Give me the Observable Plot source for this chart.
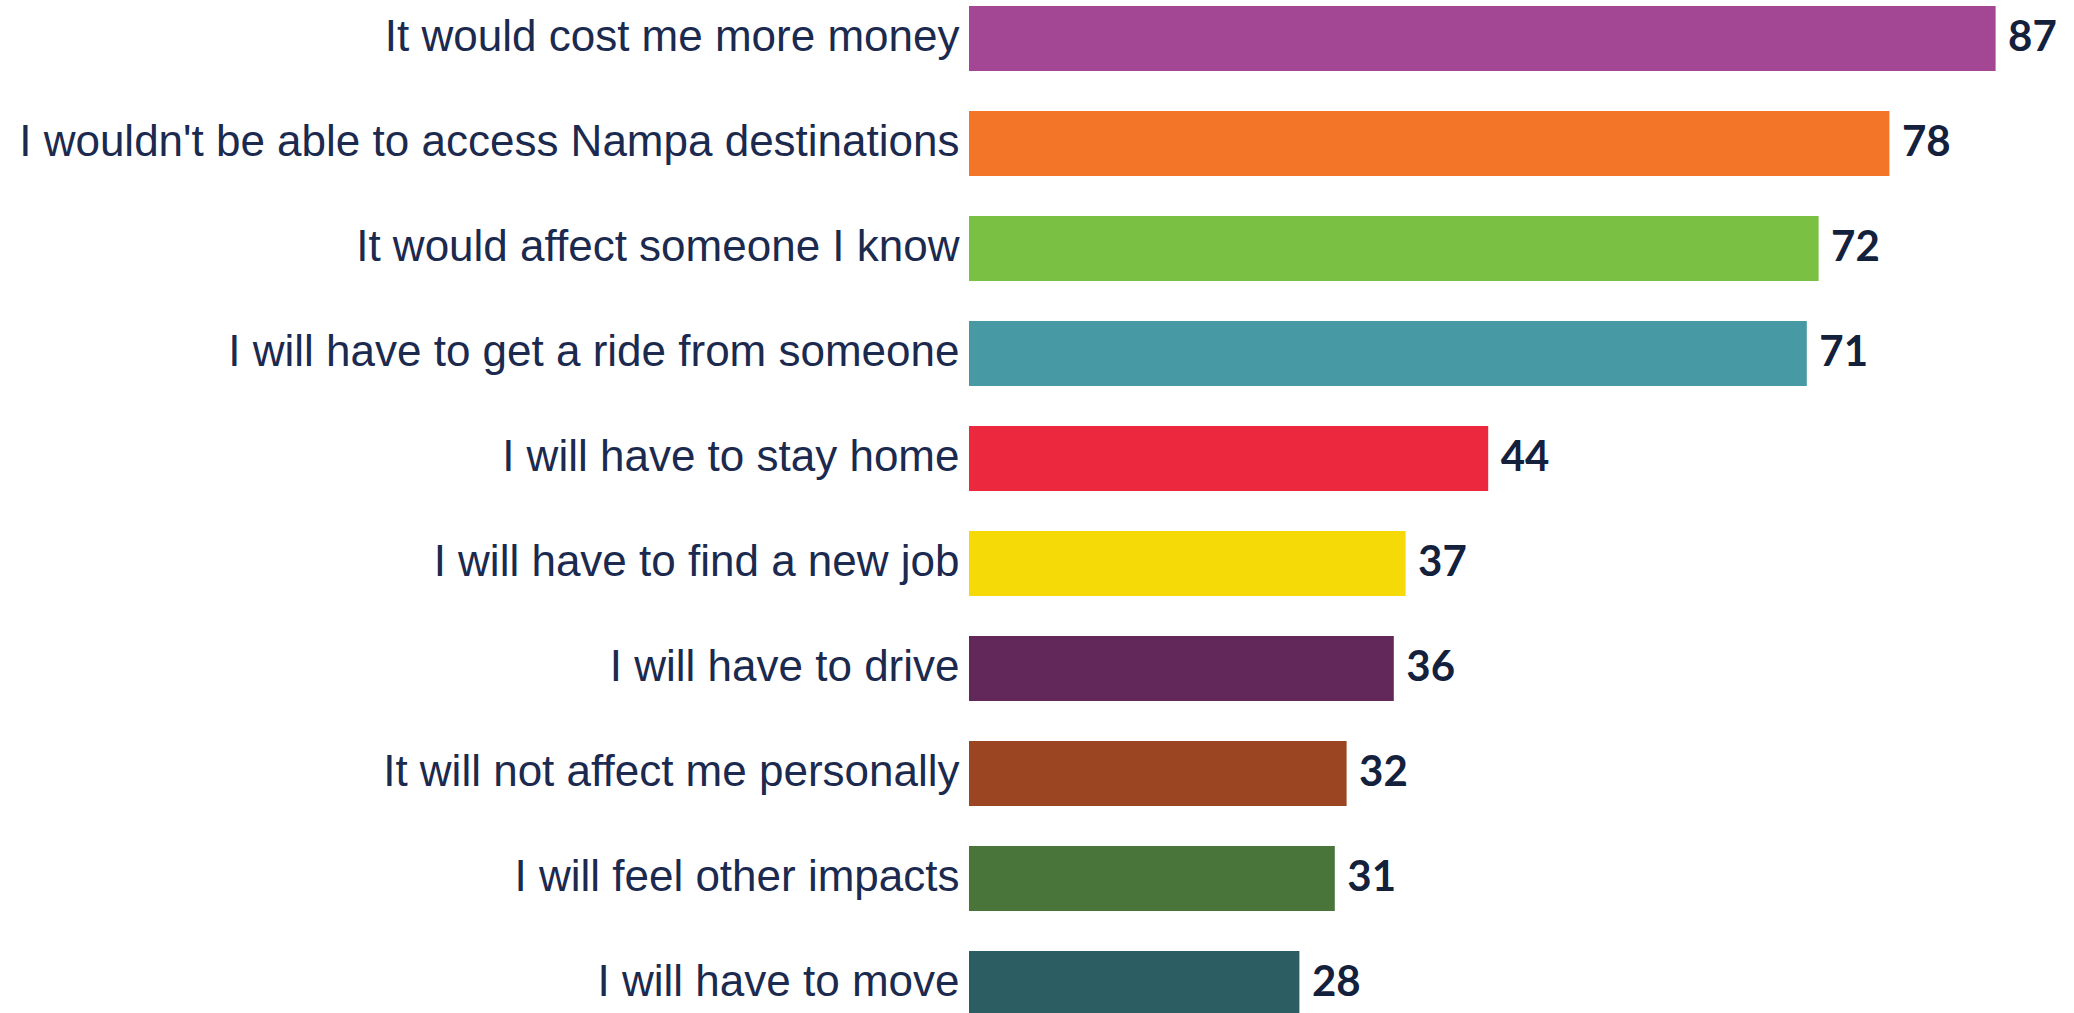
<!DOCTYPE html>
<html>
<head>
<meta charset="utf-8">
<script src="https://cdn.jsdelivr.net/npm/d3@7"></script>
<script src="https://cdn.jsdelivr.net/npm/@observablehq/plot@0.6"></script>
<style>
  html, body { margin: 0; padding: 0; background: #fff; overflow: hidden; }
  #chart svg { display: block; }
</style>
</head>
<body>
<div id="chart"></div>
<script>
const categories = [
  "It would cost me more money",
  "I wouldn't be able to access Nampa destinations",
  "It would affect someone I know",
  "I will have to get a ride from someone",
  "I will have to stay home",
  "I will have to find a new job",
  "I will have to drive",
  "It will not affect me personally",
  "I will feel other impacts",
  "I will have to move"
];
const values = [87, 78, 72, 71, 44, 37, 36, 32, 31, 28];
const colors = ["#a34693", "#f37527", "#7ac143", "#4799a4", "#ec283f", "#f6da07", "#62285a", "#9c4522", "#4a753a", "#2c5d63"];

const data = categories.map((c, i) => ({category: c, value: values[i], color: colors[i]}));

const chart = Plot.plot({
  width: 2074,
  height: 1013,
  marginLeft: 969,
  marginRight: 0,
  marginTop: 0,
  marginBottom: 0,
  x: {domain: [0, 100], range: [969, 969 + 1180], axis: null},
  y: {domain: categories, range: [6, 1017], paddingInner: 0.38, paddingOuter: 0, axis: null, label: null},
  marks: [
    Plot.barX(data, {y: "category", x: "value", fill: "color"}),
    Plot.axisY({
      tickSize: 0,
      tickPadding: 10,
      fontSize: 44,
      fill: "#1b2a4e",
      dy: -2,
      label: null,
      fontFamily: "Liberation Sans, Arial, sans-serif"
    }),
    Plot.text(data, {
      y: "category",
      x: "value",
      text: d => String(d.value),
      textAnchor: "start",
      dx: 12,
      dy: -1,
      fontSize: 42,
      fontWeight: 700,
      fill: "#14213d",
      fontFamily: "Lato, sans-serif"
    })
  ]
});
document.getElementById("chart").appendChild(chart);
</script>
</body>
</html>
